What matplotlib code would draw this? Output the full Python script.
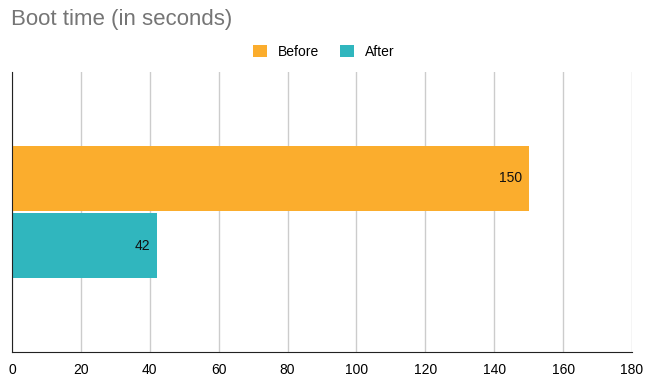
import matplotlib.pyplot as plt

plt.rcParams['font.family'] = ['Liberation Sans', 'DejaVu Sans']

series = ['Before', 'After']
values = [150, 42]
colors = ['#fbad2d', '#30b6be']
x_ticks = [0, 20, 40, 60, 80, 100, 120, 140, 160, 180]

fig = plt.figure(figsize=(6.5, 3.87), dpi=100)
ax = fig.add_axes([12 / 650, 35 / 387, 620 / 650, 280 / 387])

offsets = [0.12, -0.12]
handles = []
for name, val, col, off in zip(series, values, colors, offsets):
    b = ax.barh(off, val, height=0.23, color=col, label=name, zorder=2)
    handles.append(b)
    ax.text(val - 2, off, str(val), ha='right', va='center', fontsize=10, color='#111111', zorder=3)

ax.set_xlim(0, 180)
ax.set_ylim(-0.5, 0.5)
ax.set_xticks(x_ticks)
ax.set_yticks([])
ax.tick_params(axis='x', length=0, labelsize=10, pad=8, colors='black')
ax.grid(axis='x', color='#cccccc', linewidth=1, zorder=0)
for s in ['top', 'right']:
    ax.spines[s].set_visible(False)
ax.spines['left'].set_color('#222222')
ax.spines['bottom'].set_color('#222222')

fig.text(11 / 650, 1 - 19 / 387, 'Boot time (in seconds)', fontsize=16, color='#757575', va='center', ha='left')
fig.legend(handles=handles, labels=series, loc='center', bbox_to_anchor=(324 / 650, 1 - 52 / 387),
           ncol=2, frameon=False, fontsize=10, handlelength=1.0, handleheight=1.0, columnspacing=1.5, handletextpad=0.8)

fig.savefig('out.png', dpi=100)
